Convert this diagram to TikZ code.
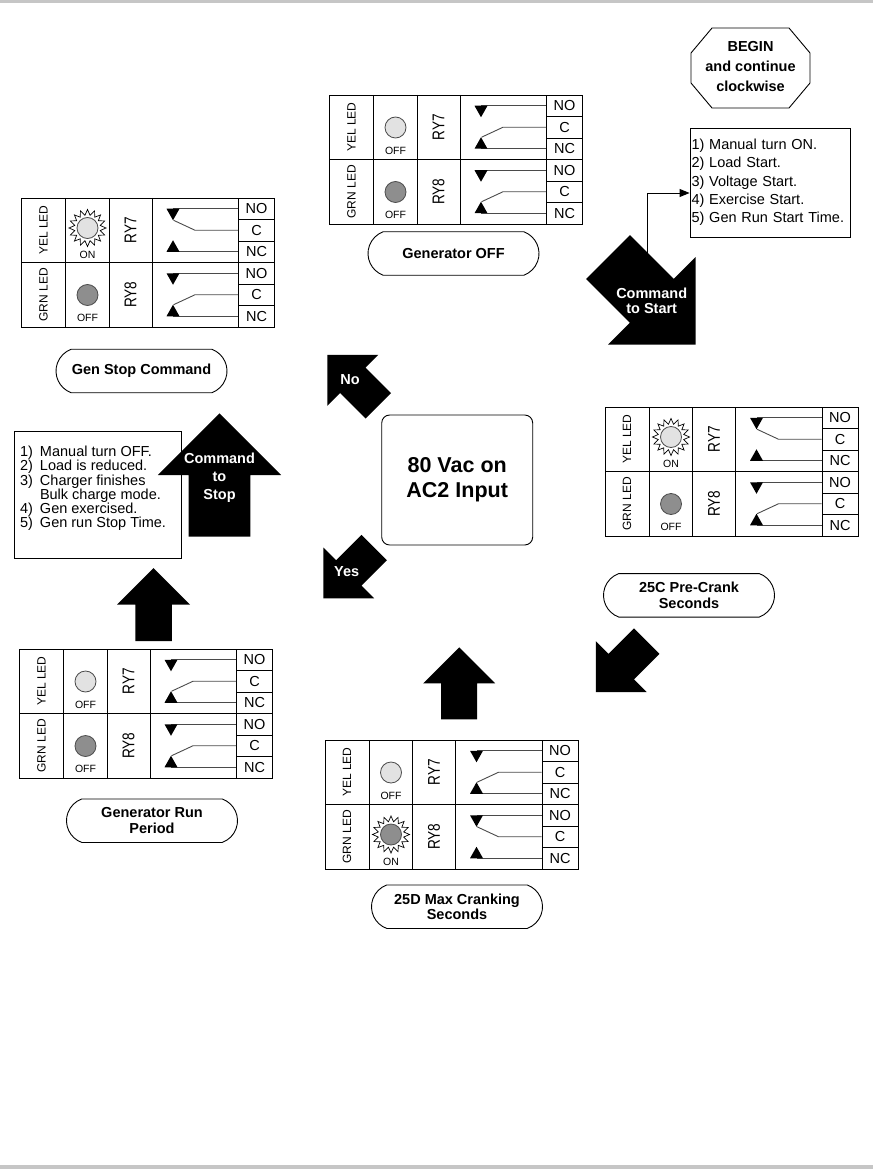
\documentclass[tikz,border=0pt]{standalone}
\usepackage{fontspec}
\setmainfont{Liberation Sans}
\usetikzlibrary{positioning, arrows.meta, shapes.misc}

\definecolor{rulegray}{HTML}{C6C6C6}
\definecolor{yelled}{HTML}{E2E2E2}
\definecolor{grnled}{HTML}{8E8E8E}
\definecolor{wiregray}{HTML}{4A4A4A}

\tikzset{
    every node/.style={inner sep=0pt},
    cell/.style={draw, minimum width=36pt, minimum height=21.5pt, font=\fontsize{14.5}{15}\selectfont}, % NO / C / NC terminals
    ledtext/.style={rotate=90, font=\fontsize{12}{13}\selectfont},
    relaytext/.style={rotate=90, font=\fontsize{17}{18}\selectfont},
    statetext/.style={font=\fontsize{10.5}{12}\selectfont},
    led/.style={circle, draw=black!70, line width=0.8pt, minimum size=21pt},
    wire/.style={draw=wiregray},
    pill/.style={draw, rounded rectangle, rounded rectangle arc length=140, minimum width=151pt, minimum height=43.5pt, inner xsep=-10pt, inner ysep=2pt, align=center, font=\bfseries\fontsize{14.5}{15.5}\selectfont}, % state names
    decision/.style={draw, rounded corners=8pt, minimum width=151pt, minimum height=130pt, align=center, font=\bfseries\fontsize{21.5}{25}\selectfont},
    listbox/.style={draw, align=left, font=\fontsize{14.5}{18.3}\selectfont},
    onblack/.style={text=white, align=center, font=\bfseries\fontsize{14.5}{15.5}\selectfont}, % text on the big arrows
    pointer/.style={-{Triangle[length=10pt, width=8pt]}},
    pics/blockarrow/.style={code={
        \fill (0,-.5) -- (1,-.5) -- (1,-1) -- (2,0) -- (1,1) -- (1,.5) -- (0,.5) -- cycle;
    }},
    pics/relay/.style 2 args={code={
        \draw (0,0) rectangle (253,129);
        \draw (0,64.5) -- (253,64.5);
        \foreach \cx in {44,87.5,130.5} \draw (\cx,0) -- (\cx,129);
        \foreach \ry/\lbl/\rly/\st/\col in {0/YEL LED/RY7/#1/yelled, 64.5/GRN LED/RY8/#2/grnled}{
            \node[ledtext] (-\rly-lbl) at (22,\ry+32.25) {\lbl};
            \node[relaytext] (-\rly) at (109,\ry+32.25) {\scalebox{.8}[1]{\rly}};
            \node[cell] (-\rly-no) at (235,\ry+10.75) {NO};
            \node[cell] (-\rly-c) at (235,\ry+32.25) {C};
            \node[cell] (-\rly-nc) at (235,\ry+53.75) {NC};
            % fixed contacts
            \draw[wire] (-\rly-no.west) -- (151.5,\ry+10.75);
            \draw[wire] (-\rly-nc.west) -- (151.5,\ry+53.75);
            \fill (145,\ry+10.75) -- (158,\ry+10.75) -- (151.5,\ry+22.25) -- cycle;
            \fill (145,\ry+53.75) -- (158,\ry+53.75) -- (151.5,\ry+42.25) -- cycle;
            % common arm: energised goes to NO, else NC
            \draw[wire] (-\rly-c.west) -- (173.5,\ry+32.25) -- (152,{\ry+ifthenelse(\st==1,22.25,42.25)});
            \ifnum\st=1\relax
                \begin{scope}[shift={(66,\ry+30)}]
                    \draw[fill=white, line width=0.7pt] (0:18.5) \foreach \a in {1,...,31}{ -- ({\a*11.25}:{ifthenelse(isodd(\a),13,18.5)}) } -- cycle;
                \end{scope}
                \node[led, fill=\col] (-\rly-led) at (66,\ry+30) {};
                \node[statetext] (-\rly-st) at (66,\ry+57) {ON};
            \else
                \node[led, fill=\col] (-\rly-led) at (66,\ry+32.5) {};
                \node[statetext] (-\rly-st) at (66,\ry+55.5) {OFF};
            \fi
        }
    }}
}

\begin{document}
\begin{tikzpicture}[x=1pt, y=-1pt, line width=0.9pt]
\useasboundingbox (0,0) rectangle (873,1174);
\fill[rulegray] (0,0) rectangle (873,3.5);
\fill[rulegray] (0,1165) rectangle (873,1169);

% relay panels, clockwise from the top
\pic (genoff) at (329.5,95) {relay={0}{0}};
\pic (precrank) at (605,407) {relay={1}{0}};
\pic (cranking) at (325,740) {relay={0}{1}};
\pic (runperiod) at (19.5,649) {relay={0}{0}};
\pic (stopcmd) at (21.5,198) {relay={1}{0}};

\node[pill] (offlbl) at (453.5,253.5) {Generator OFF};
\node[pill] (precranklbl) at (689,595.3) {25C Pre-Crank\\Seconds};
\node[pill] (cranklbl) at (457,906.7) {25D Max Cranking\\Seconds};
\node[pill] (runlbl) at (152,820.7) {Generator Run\\Period};
\node[pill] (stoplbl) at (141.5,371) {Gen Stop Command};

% start
\node[font=\bfseries\fontsize{14.5}{20}\selectfont, align=center] (begin) at (750.5,66.5) {BEGIN\\and continue\\clockwise};
\draw (712,28) -- (789,28) -- (810,53) -- (810,83) -- (789,108) -- (712,108) -- (691,83) -- (691,53) -- cycle;

\node[listbox, text width=157pt, inner xsep=1.5pt, minimum height=109pt] (startlist) at (770,182.5) {1) Manual turn ON.\\2) Load Start.\\3) Voltage Start.\\4) Exercise Start.\\5) Gen Run Start Time.};
\coordinate (cmdfoot) at (647.3,252.5);
\draw[pointer] (cmdfoot) |- ([yshift=-10.5pt]startlist.west);

\pic[rotate=-45, scale=62] at (608,257) {blockarrow};
\node[onblack] (cmdstart) at (651.7,300.8) {Command\\to Start};

% decision in the middle
\node[decision] (acinput) at (457.2,480) {80 Vac on\\AC2 Input};
\pic[rotate=135, scale=36] at (378.3,405.8) {blockarrow};
\node[onblack] (no) at (350,380) {No};
\pic[rotate=-135, scale=36] at (374.2,547.5) {blockarrow};
\node[onblack] (yes) at (346.7,571.7) {Yes};

\pic[rotate=-135, scale=36] at (646.7,641.2) {blockarrow};
\pic[rotate=90, scale=36] at (459.2,719.3) {blockarrow};
\pic[rotate=90, scale=36.5] at (153.5,641) {blockarrow};

% stop
\node[draw, minimum width=167.7pt, minimum height=126.6pt] (stoplist) at (97.85,495) {};
\node[listbox, draw=none, font=\fontsize{14.5}{14.2}\selectfont, below right=14.5pt and 6pt of stoplist.north west] (stoptext) {\makebox[20pt][l]{1)}Manual turn OFF.\\\makebox[20pt][l]{2)}Load is reduced.\\\makebox[20pt][l]{3)}Charger finishes\\\hspace*{20pt}Bulk charge mode.\\\makebox[20pt][l]{4)}Gen exercised.\\\makebox[20pt][l]{5)}Gen run Stop Time.};
\pic[rotate=90, scale=61.7] at (219.5,536.7) {blockarrow};
\node[onblack, font=\bfseries\fontsize{14.5}{18}\selectfont] (cmdstop) at (219.5,478) {Command\\to\\Stop};
\end{tikzpicture}
\end{document}
